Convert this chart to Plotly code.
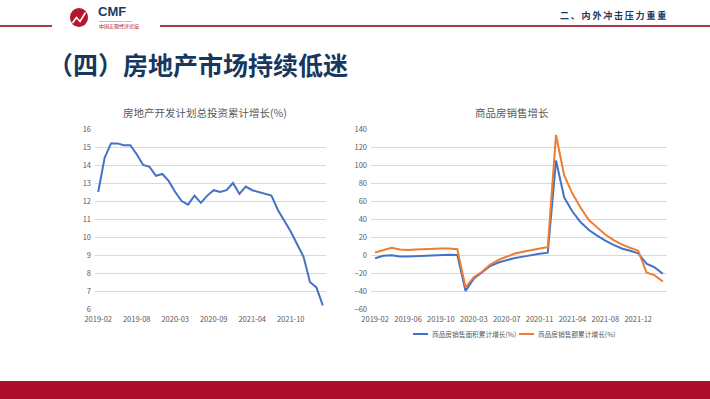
import plotly.graph_objects as go

# ---------------- data ----------------
months = ["2019-02", "2019-03", "2019-04", "2019-05", "2019-06", "2019-07", "2019-08", "2019-09",
          "2019-10", "2019-11", "2019-12",
          "2020-02", "2020-03", "2020-04", "2020-05", "2020-06", "2020-07", "2020-08", "2020-09",
          "2020-10", "2020-11", "2020-12",
          "2021-02", "2021-03", "2021-04", "2021-05", "2021-06", "2021-07", "2021-08", "2021-09",
          "2021-10", "2021-11", "2021-12",
          "2022-02", "2022-03", "2022-04"]

invest_growth = [12.5, 14.4, 15.2, 15.2, 15.1, 15.1, 14.6, 14.0, 13.9, 13.4, 13.5,
                 13.1, 12.5, 12.0, 11.8, 12.3, 11.9, 12.3, 12.6, 12.5, 12.6, 13.0,
                 12.4, 12.8, 12.6, 12.5, 12.4, 12.3, 11.5, 10.9, 10.3, 9.6, 8.9,
                 7.5, 7.2, 6.2]

area_growth = [-3.6, -0.9, -0.3, -1.6, -1.8, -1.3, -0.6, -0.1, 0.1, 0.2, -0.1,
               -39.9, -26.3, -19.3, -12.3, -8.4, -5.8, -3.3, -1.8, 0.0, 1.3, 2.6,
               104.9, 63.8, 48.3, 36.3, 27.7, 21.5, 15.9, 11.3, 7.2, 4.8, 1.9,
               -9.6, -13.8, -20.9]

amount_growth = [2.8, 5.6, 8.1, 6.1, 5.6, 6.2, 6.7, 7.1, 7.3, 7.3, 6.5,
                 -35.9, -24.7, -18.6, -10.6, -5.4, -2.1, 1.6, 3.7, 5.8, 7.2, 8.7,
                 133.4, 88.5, 68.2, 52.4, 38.9, 30.7, 22.8, 16.6, 11.8, 8.0, 4.8,
                 -19.3, -22.7, -29.5]

left_tick_idx = [0, 6, 12, 18, 24, 30]
right_tick_idx = [0, 4, 8, 12, 16, 20, 24, 28, 32]

left_title = "房地产开发计划总投资累计增长(%)"
right_title = "商品房销售增长"
series_names = ["商品房销售面积累计增长(%)", "商品房销售额累计增长(%)"]
slide_title = "（四）房地产市场持续低迷"
section_text = "二、内外冲击压力重重"

# ---------------- layout helpers ----------------
W, H = 710, 399
FONT = "Noto Sans CJK SC"
BLUE = "#4472C4"
ORANGE = "#ED7D31"
GRID = "#D9D9D9"
TICK = "#595959"
NAVY = "#17375E"
RED = "#AD0C2A"


def px(x):
    return x / W


def py(y):
    return 1 - y / H


x_idx = list(range(len(months)))

fig = go.Figure()

fig.add_trace(go.Scatter(x=x_idx, y=invest_growth, mode="lines", name=left_title,
                         line=dict(color=BLUE, width=2), xaxis="x", yaxis="y",
                         showlegend=False))
fig.add_trace(go.Scatter(x=x_idx, y=area_growth, mode="lines", name=series_names[0],
                         line=dict(color=BLUE, width=2), xaxis="x2", yaxis="y2",
                         showlegend=False))
fig.add_trace(go.Scatter(x=x_idx, y=amount_growth, mode="lines", name=series_names[1],
                         line=dict(color=ORANGE, width=2), xaxis="x2", yaxis="y2",
                         showlegend=False))

tickfont = dict(family=FONT, size=7.5, color=TICK)
ydom = [py(309), py(129)]

common_x = dict(showgrid=False, zeroline=False, showline=False, ticks="",
                tickfont=tickfont, ticklabelstandoff=4, fixedrange=True, automargin=False)
common_y = dict(showgrid=True, gridcolor=GRID, gridwidth=1, zeroline=False, showline=False,
                ticks="", tickfont=tickfont, ticklabelstandoff=3, fixedrange=True,
                automargin=False)

fig.update_layout(
    template="none",
    width=W, height=H,
    margin=dict(l=0, r=0, t=0, b=0, pad=0, autoexpand=False),
    paper_bgcolor="white", plot_bgcolor="white",
    font=dict(family=FONT, color=TICK),
    showlegend=False,
    xaxis=dict(domain=[px(95), px(326)], range=[-0.5, 35.5], anchor="y",
               tickvals=left_tick_idx, ticktext=[months[i] for i in left_tick_idx],
               **common_x),
    yaxis=dict(domain=ydom, range=[6, 16], dtick=1, anchor="x", **common_y),
    xaxis2=dict(domain=[px(371), px(667)], range=[-0.5, 35.5], anchor="y2",
                tickvals=right_tick_idx, ticktext=[months[i] for i in right_tick_idx],
                **common_x),
    yaxis2=dict(domain=ydom, range=[-60, 140], dtick=20, anchor="x2", **common_y),
)

shapes = []
# header lines
shapes.append(dict(type="line", xref="paper", yref="paper", x0=px(0), x1=px(52),
                   y0=py(26), y1=py(26), line=dict(color="#A93A48", width=2)))
shapes.append(dict(type="line", xref="paper", yref="paper", x0=px(160), x1=px(710),
                   y0=py(26), y1=py(26), line=dict(color="#A93A48", width=2)))
# logo circle
shapes.append(dict(type="circle", xref="paper", yref="paper", x0=px(70), x1=px(88),
                   y0=py(27), y1=py(8), fillcolor="#B5162B", line=dict(width=0)))
# logo zigzag
zig = [(72.5, 23), (76.5, 17.5), (80, 21.5), (85.5, 12.5)]
path = "M " + " L ".join(f"{px(a):.5f},{py(b):.5f}" for a, b in zig)
shapes.append(dict(type="path", xref="paper", yref="paper", path=path,
                   line=dict(color="white", width=1.6)))
# bottom band
shapes.append(dict(type="rect", xref="paper", yref="paper", x0=0, x1=1,
                   y0=0, y1=py(381), fillcolor=RED, line=dict(width=0), layer="below"))
# legend keys
shapes.append(dict(type="line", xref="paper", yref="paper", x0=px(413), x1=px(428),
                   y0=py(334), y1=py(334), line=dict(color=BLUE, width=2)))
shapes.append(dict(type="line", xref="paper", yref="paper", x0=px(519), x1=px(534),
                   y0=py(334), y1=py(334), line=dict(color=ORANGE, width=2)))
fig.update_layout(shapes=shapes)

ann = []
# slide title
ann.append(dict(text=f"<b>{slide_title}</b>", xref="paper", yref="paper",
                x=px(46), y=py(64), xanchor="left", yanchor="middle", showarrow=False,
                font=dict(family=FONT, size=25, color=NAVY)))
# section text (spaced)
ann.append(dict(text="<b>" + "\u2009".join(section_text) + "</b>", xref="paper", yref="paper",
                x=px(613), y=py(15), xanchor="center", yanchor="middle", showarrow=False,
                font=dict(family=FONT, size=9, color=NAVY)))
# logo texts
ann.append(dict(text="<b>CMF</b>", xref="paper", yref="paper",
                x=px(96), y=py(11.5), xanchor="left", yanchor="middle", showarrow=False,
                font=dict(family="Liberation Sans", size=13, color="#1F3864")))
ann.append(dict(text="China Macroeconomy Forum", xref="paper", yref="paper",
                x=px(97), y=py(21.5), xanchor="left", yanchor="middle", showarrow=False,
                font=dict(family="Liberation Sans", size=2.5, color="#1F3864")))
ann.append(dict(text="中国宏观经济论坛", xref="paper", yref="paper",
                x=px(97), y=py(26), xanchor="left", yanchor="middle", showarrow=False,
                font=dict(family=FONT, size=5, color="#B5162B")))
# chart titles
ann.append(dict(text=left_title, xref="paper", yref="paper",
                x=px(205), y=py(113), xanchor="center", yanchor="middle", showarrow=False,
                font=dict(family=FONT, size=10.5, color=TICK)))
ann.append(dict(text=right_title, xref="paper", yref="paper",
                x=px(512), y=py(113), xanchor="center", yanchor="middle", showarrow=False,
                font=dict(family=FONT, size=10.5, color=TICK)))
# legend texts
ann.append(dict(text=series_names[0], xref="paper", yref="paper",
                x=px(430), y=py(334), xanchor="left", yanchor="middle", showarrow=False,
                font=dict(family=FONT, size=6.7, color=TICK)))
ann.append(dict(text=series_names[1], xref="paper", yref="paper",
                x=px(536), y=py(334), xanchor="left", yanchor="middle", showarrow=False,
                font=dict(family=FONT, size=6.7, color=TICK)))
fig.update_layout(annotations=ann)

fig.write_html("out.html",
               config={"displayModeBar": False, "staticPlot": True},
               post_script="document.body.style.margin='0px';"
                           "document.body.style.overflow='hidden';")
